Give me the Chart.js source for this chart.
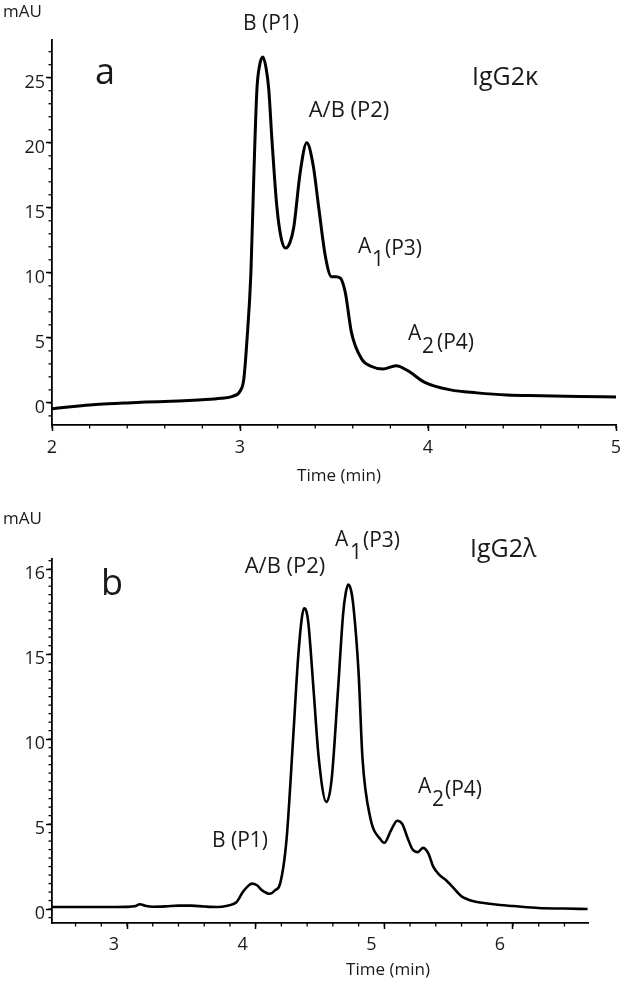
<!DOCTYPE html>
<html><head><meta charset="utf-8">
<script src="https://cdn.jsdelivr.net/npm/chart.js@4.4.1/dist/chart.umd.min.js"></script>
<style>
html,body{margin:0;padding:0;background:#fff;}
#wrap{position:relative;width:620px;height:984px;overflow:hidden;}
canvas{position:absolute;left:0;}
</style></head><body>
<div id="wrap">
<canvas id="cA" width="620" height="490" style="top:0"></canvas>
<canvas id="cB" width="620" height="494" style="top:490px"></canvas>
</div>
<script>
// ---- Panel a: IgG2κ ----
const timeA = [2.0,2.1,2.2,2.3,2.4,2.5,2.6,2.7,2.8,2.9,2.96,3.0,3.02,3.037,3.058,3.074,3.09,3.105,3.122,3.138,3.153,3.17,3.196,3.22,3.243,3.265,3.286,3.32,3.355,3.39,3.418,3.455,3.487,3.51,3.534,3.56,3.593,3.646,3.70,3.76,3.83,3.89,3.98,4.12,4.26,4.42,4.6,4.8,5.0];
const signalA = [-0.45,-0.3,-0.17,-0.07,0.0,0.06,0.11,0.16,0.24,0.36,0.5,0.9,1.8,4.8,10.0,17.7,24.1,26.0,26.6,25.8,24.1,20.2,15.1,12.6,11.9,12.3,13.5,17.7,20.0,18.2,15.1,11.2,9.7,9.7,9.6,8.5,5.4,3.4,2.8,2.6,2.85,2.5,1.6,1.0,0.77,0.6,0.55,0.5,0.46];
const xTicksA = [2,3,4,5];
const yTicksA = [0,5,10,15,20,25];

// ---- Panel b: IgG2λ ----
const timeB = [2.42,2.6,2.8,3.0,3.06,3.10,3.14,3.2,3.3,3.4,3.5,3.6,3.7,3.78,3.85,3.90,3.94,3.97,4.01,4.05,4.11,4.15,4.19,4.24,4.29,4.33,4.36,4.377,4.395,4.41,4.45,4.49,4.55,4.59,4.64,4.68,4.70,4.72,4.74,4.76,4.80,4.83,4.89,4.97,5.00,5.05,5.10,5.14,5.18,5.22,5.26,5.30,5.34,5.38,5.43,5.48,5.53,5.6,5.7,5.8,5.9,6.0,6.2,6.4,6.58];
const signalB = [0.12,0.12,0.12,0.13,0.16,0.28,0.2,0.14,0.16,0.2,0.2,0.15,0.12,0.2,0.4,1.0,1.35,1.5,1.4,1.1,0.9,1.1,1.5,4.1,9.9,14.8,17.2,17.7,17.5,16.8,12.9,8.9,6.3,7.6,12.9,17.4,18.6,19.1,18.8,17.8,13.9,8.9,5.4,4.1,3.9,4.6,5.2,5.0,4.2,3.5,3.35,3.6,3.3,2.5,2.0,1.7,1.3,0.75,0.45,0.33,0.24,0.18,0.06,0.03,0.0];
const xTicksB = [3,4,5,6];
const yTicksB = [0,5,10,15,20];
const yTickLabelsB = ['0','5','10','15','16'];

const FONT = "'Open Sans', 'Noto Sans', sans-serif";
const INK = '#1a1a1a';

const textsA = [
  {t:'B (P1)', x:271, y:24, s:21, a:'center'},
  {t:'A/B (P2)', x:349, y:111, s:22, a:'center'},
  {t:'A', x:358, y:247, s:21}, {t:'1', x:372, y:260, s:21}, {t:'(P3)', x:385, y:249, s:21},
  {t:'A', x:408, y:334, s:21}, {t:'2', x:422, y:347, s:21}, {t:'(P4)', x:437, y:343, s:21},
  {t:'a', x:105, y:74, s:36, a:'center'},
  {t:'IgG2κ', x:472, y:78, s:25},
  {t:'mAU', x:3, y:12, s:17},
  {t:'Time (min)', x:339, y:476, s:17, a:'center'}
];
const textsB = [
  {t:'A/B (P2)', x:285, y:77, s:22, a:'center'},
  {t:'A', x:335, y:50, s:21}, {t:'1', x:350, y:63, s:21}, {t:'(P3)', x:363, y:51, s:21},
  {t:'A', x:418, y:297, s:21}, {t:'2', x:432, y:310, s:21}, {t:'(P4)', x:445, y:300, s:21},
  {t:'B (P1)', x:240, y:351, s:21, a:'center'},
  {t:'b', x:112, y:95, s:36, a:'center'},
  {t:'IgG2λ', x:470, y:60, s:25},
  {t:'mAU', x:3, y:29, s:17},
  {t:'Time (min)', x:388, y:480, s:17, a:'center'}
];

const extrasPlugin = {
  id: 'extras',
  afterDraw(chart, args, opts) {
    const ctx = chart.ctx;
    ctx.save();
    ctx.strokeStyle = '#000';
    ctx.lineWidth = 1.3;
    const xs = chart.scales.x, ys = chart.scales.y;
    const ca = chart.chartArea;
    const drawMinor = (scale, step, len, horiz) => {
      const start = Math.ceil(scale.min / step - 1e-6) * step;
      for (let v = start; v <= scale.max + 1e-6; v += step) {
        const p = scale.getPixelForValue(v);
        ctx.beginPath();
        if (horiz) { ctx.moveTo(p, ca.bottom); ctx.lineTo(p, ca.bottom + len); }
        else { ctx.moveTo(ca.left, p); ctx.lineTo(ca.left - len, p); }
        ctx.stroke();
      }
    };
    drawMinor(xs, opts.xStep, 3.5, true);
    drawMinor(ys, opts.yStep, 3.5, false);
    ctx.fillStyle = INK;
    ctx.textBaseline = 'middle';
    for (const it of opts.texts) {
      ctx.font = it.s + 'px ' + FONT;
      ctx.textAlign = it.a || 'left';
      ctx.fillText(it.t, it.x, it.y);
    }
    ctx.restore();
  }
};

function makeChart(id, times, values, cfg) {
  const pts = times.map((t, i) => ({x: t, y: values[i]}));
  return new Chart(document.getElementById(id), {
    type: 'line',
    data: { datasets: [{ data: pts, borderColor: '#000', borderWidth: cfg.lw, pointRadius: 0, cubicInterpolationMode: 'monotone', fill: false }] },
    options: {
      responsive: false, animation: false,
      layout: { padding: { top: cfg.top, right: cfg.right, left: 0, bottom: 0 } },
      plugins: { legend: {display: false}, tooltip: {enabled: false}, title: {display: false},
        extras: { xStep: cfg.xStep, yStep: cfg.yStep, texts: cfg.texts } },
      scales: {
        x: {
          type: 'linear', min: cfg.xmin, max: cfg.xmax,
          afterBuildTicks: s => { s.ticks = cfg.xTicks.map(v => ({value: v})); },
          afterFit: s => { s.height = cfg.xh; s.paddingLeft = 0; s.paddingRight = 0; },
          ticks: { color: INK, font: {family: FONT, size: 18}, padding: cfg.xPad, labelOffset: cfg.xLabelOffset, maxRotation: 0, autoSkip: false,
            callback: v => String(v) },
          grid: { display: true, drawOnChartArea: false, drawTicks: true, tickLength: 6, tickWidth: 1.5, tickColor: '#000' },
          border: { display: true, color: '#000', width: 1.8 }
        },
        y: {
          type: 'linear', min: cfg.ymin, max: cfg.ymax,
          afterBuildTicks: s => { s.ticks = cfg.yTicks.map(v => ({value: v})); },
          afterFit: s => { s.width = 52; s.paddingTop = 0; s.paddingBottom = 0; },
          ticks: { color: INK, font: {family: FONT, size: 18}, padding: 1, labelOffset: 5, autoSkip: false,
            callback: (v) => cfg.yLabels ? cfg.yLabels[cfg.yTicks.indexOf(v)] : String(v) },
          grid: { display: true, drawOnChartArea: false, drawTicks: true, tickLength: 6, tickWidth: 1.5, tickColor: '#000' },
          border: { display: true, color: '#000', width: 1.8 }
        }
      }
    },
    plugins: [extrasPlugin]
  });
}

makeChart('cA', timeA, signalA, {
  lw: 3, top: 40, right: 4, xh: 65, xmin: 2, xmax: 5, ymin: -1.7, ymax: 27.9, xPad: 6,
  xTicks: xTicksA, yTicks: yTicksA, xStep: 0.2, yStep: 1, xLabelOffset: 0, texts: textsA
});
makeChart('cB', timeB, signalB, {
  lw: 2.6, top: 69, right: 32, xh: 61, xmin: 2.417, xmax: 6.583, ymin: -0.82, ymax: 20.6, xPad: 5,
  xTicks: xTicksB, yTicks: yTicksB, yLabels: yTickLabelsB, xStep: 0.2, yStep: 0.5, xLabelOffset: -13, texts: textsB
});
</script>
</body></html>
